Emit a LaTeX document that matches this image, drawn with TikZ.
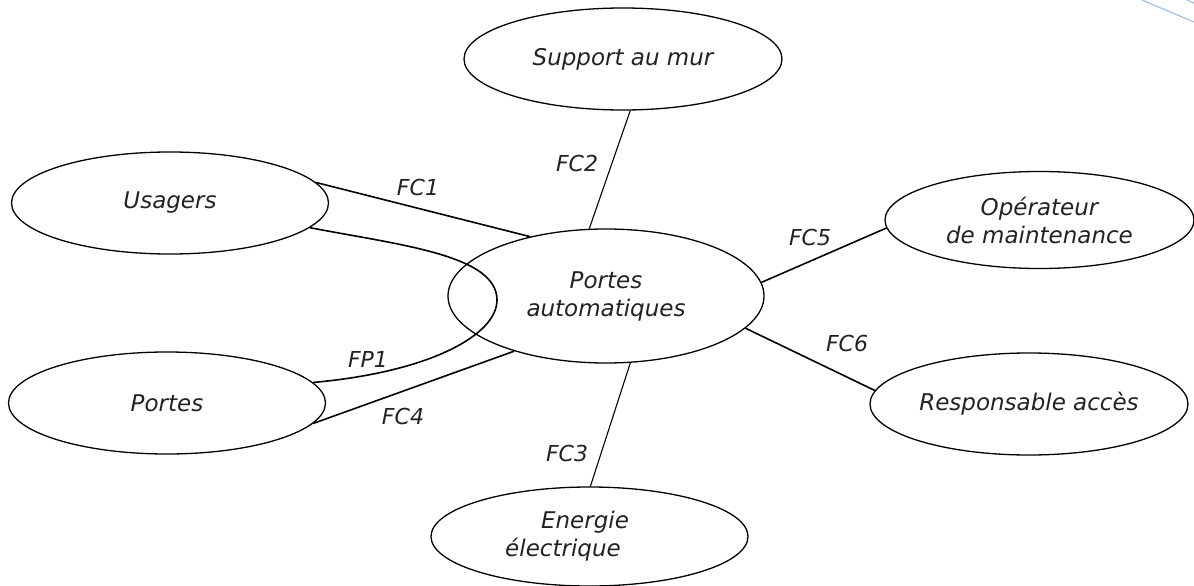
\documentclass[tikz,border=0pt]{standalone}
\usepackage{fontspec}
\setmainfont{DejaVu Sans}
\usetikzlibrary{shapes.geometric}
\definecolor{inkgray}{HTML}{222222}
\definecolor{pageblue}{HTML}{A3BFE3}
\begin{document}
\begin{tikzpicture}[x=1pt,y=-1pt,
  bubble/.style={ellipse,draw=black,line width=1.3pt,inner sep=0pt,
    text=inkgray,align=center,font=\fontsize{23}{28}\selectfont\itshape},
  thick link/.style={draw=black,line width=1.6pt},
  thin link/.style={draw=black,line width=1.1pt},
  flabel/.style={text=inkgray,inner sep=0pt,font=\fontsize{22}{26}\selectfont\itshape}]
\useasboundingbox (0,0) rectangle (1194,586);

\node[bubble,minimum width=317pt,minimum height=102pt] (usagers) at (170,203) {Usagers};
\node[bubble,minimum width=317pt,minimum height=102pt] (portes) at (167,403) {Portes};
\node[bubble,minimum width=318pt,minimum height=102pt] (support) at (623,59) {Support au mur};
\node[bubble,minimum width=316pt,minimum height=134pt] (central) at (606,296) {Portes\\automatiques};
\node[bubble,minimum width=309pt,minimum height=97pt] (operateur) at (1039.5,220) {Opérateur\\de maintenance};
\node[bubble,minimum width=318pt,minimum height=102pt] (respo) at (1029,404) {Responsable accès};
\node[bubble,minimum width=317pt,minimum height=99pt] (energie) at (589.5,536.5) {Energie\hspace*{9pt}\\électrique\hspace*{53pt}};

\coordinate (fptip) at (497,300);

\draw[thick link] (usagers.8) -- (central.142);
\draw[thin link] (support.-82) -- (central.104);
\draw[thin link] (central.-70) -- (energie.89);
\draw[thick link] (portes.-8) -- (central.211);
\draw[thick link] (central.5) -- (operateur.183);
\draw[thick link] (central.-13) -- (respo.175);
\draw[thick link] (usagers.-10) .. controls (400,245) and (497,255) .. (fptip)
  .. controls (497,335) and (430,372) .. (portes.8);

\node[flabel] (lfc1) at (418,187) {FC1};
\node[flabel] (lfc2) at (577,163) {FC2};
\node[flabel] (lfc3) at (567,453) {FC3};
\node[flabel] (lfc4) at (403,416) {FC4};
\node[flabel] (lfc5) at (810,237) {FC5};
\node[flabel] (lfc6) at (847,343) {FC6};
\node[flabel] (lfp1) at (368,359) {FP1};

\coordinate (b1) at (1142,0);
\coordinate (b2) at (1194,22);
\coordinate (b3) at (1187,0);
\coordinate (b4) at (1194,3);
\draw[pageblue,line width=1.2pt] (b1) -- (b2);
\draw[pageblue,line width=1.2pt] (b3) -- (b4);
\end{tikzpicture}
\end{document}
